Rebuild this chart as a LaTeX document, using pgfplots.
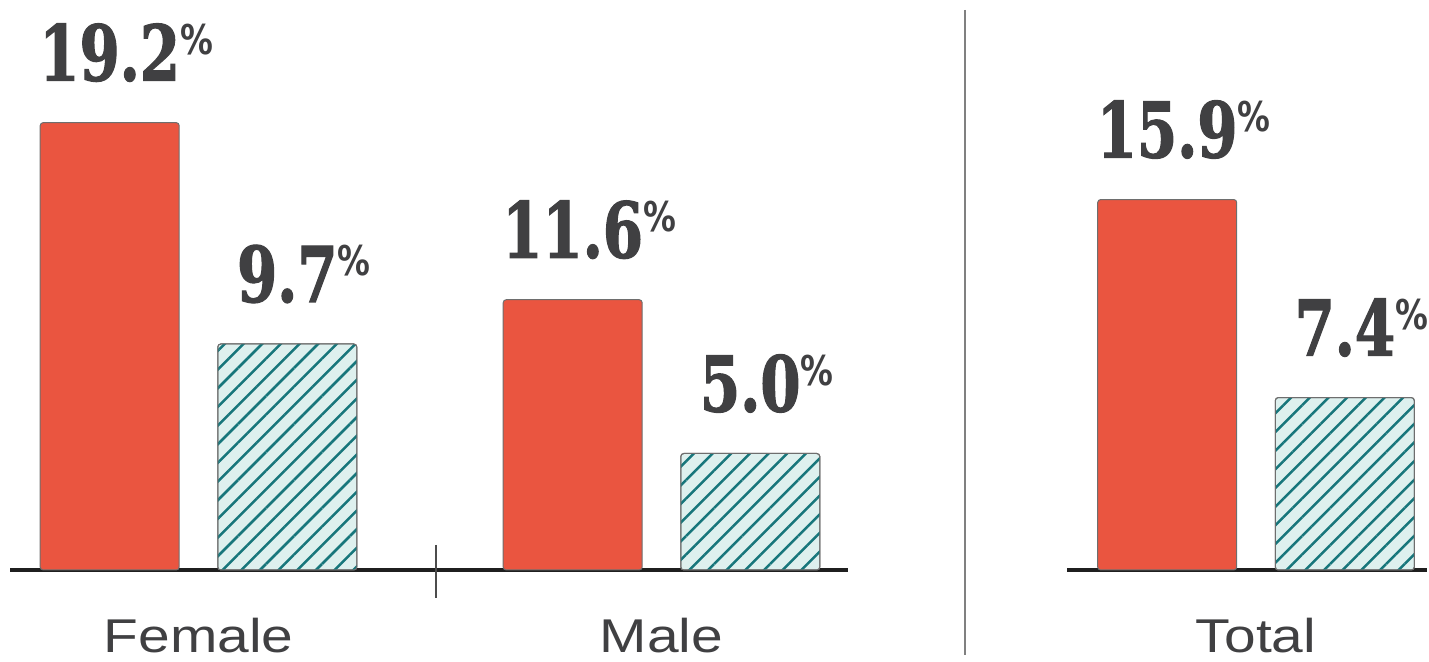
\documentclass[border=0pt]{standalone}
\usepackage{fontspec}
\usepackage{pgfplots}
\pgfplotsset{compat=1.18}
\usetikzlibrary{patterns.meta}
\newfontfamily\catfont{Liberation Sans}[FakeStretch=1.2]
\newfontfamily\valfont{DejaVu Serif}[FakeStretch=0.75, FakeBold=1.5]
\newfontfamily\pctfont{DejaVu Sans}[FakeStretch=0.8]
\definecolor{barred}{HTML}{EA5540}
\definecolor{hatchteal}{HTML}{17767B}
\definecolor{hatchbg}{HTML}{DEF0EE}
\definecolor{txt}{HTML}{404042}
\definecolor{barline}{HTML}{6E6E6E}
\newcommand{\val}[1]{{\valfont\bfseries\fontsize{38.5}{40}\selectfont\pgfmathprintnumber[assume math mode=true,fixed,precision=1,fixed zerofill]{#1}\rlap{\raisebox{13pt}{\pctfont\bfseries\fontsize{20.5}{21}\selectfont\%}}}}
\pgfplotsset{
  panel/.style={
    x=231.5pt, y=11.65pt,
    ymin=0, ymax=20,
    axis x line=bottom, axis y line=none,
    axis line style={-, line width=2pt, color=black!88},
    xtick=data, major tick length=0pt, ytick=\empty,
    ybar, bar width=69.5pt,
    clip=false,
    xticklabel style={anchor=base, yshift=-41.5pt, inner sep=0pt, text=txt, font=\catfont\fontsize{23.7}{25}\selectfont},
    nodes near coords={\val{\pgfplotspointmeta}},
    every node near coord/.append style={anchor=base, yshift=21pt, inner sep=0pt, text=txt},
  },
  redbar/.style={fill=barred, draw=barline, line width=0.5pt, rounded corners=1.5pt, bar shift=-44.4pt},
  hatchbar/.style={fill=hatchbg, draw=barline, line width=0.5pt, rounded corners=1.5pt, bar shift=44.4pt,
    postaction={pattern={Lines[angle=45,distance=6.6pt,line width=1.25pt]}, pattern color=hatchteal}},
}
\begin{document}
\begin{tikzpicture}
\useasboundingbox (0,0) rectangle (714.5pt,331pt);
% left panel: Female, Male
\begin{axis}[panel, at={(99.25pt,46pt)}, anchor=origin,
  xmin=-0.407, xmax=1.403, xticklabels={Female,Male}]
\addplot[redbar] coordinates {(0,19.2) (1,11.6)};
\addplot[hatchbar] coordinates {(0,9.7) (1,5.0)};
\draw[line width=0.8pt, color=black!70] ([yshift=12.5pt]axis cs:0.513,0) -- ([yshift=-14pt]axis cs:0.513,0);
\end{axis}
% right panel: Total
\begin{axis}[panel, at={(628pt,46pt)}, anchor=origin,
  xmin=-0.408, xmax=0.369, xticklabels={Total}]
\addplot[redbar] coordinates {(0,15.9)};
\addplot[hatchbar] coordinates {(0,7.4)};
\end{axis}
\draw[line width=0.6pt, color=black!50] (482.5pt,326pt) -- (482.5pt,3.5pt);
\end{tikzpicture}
\end{document}
